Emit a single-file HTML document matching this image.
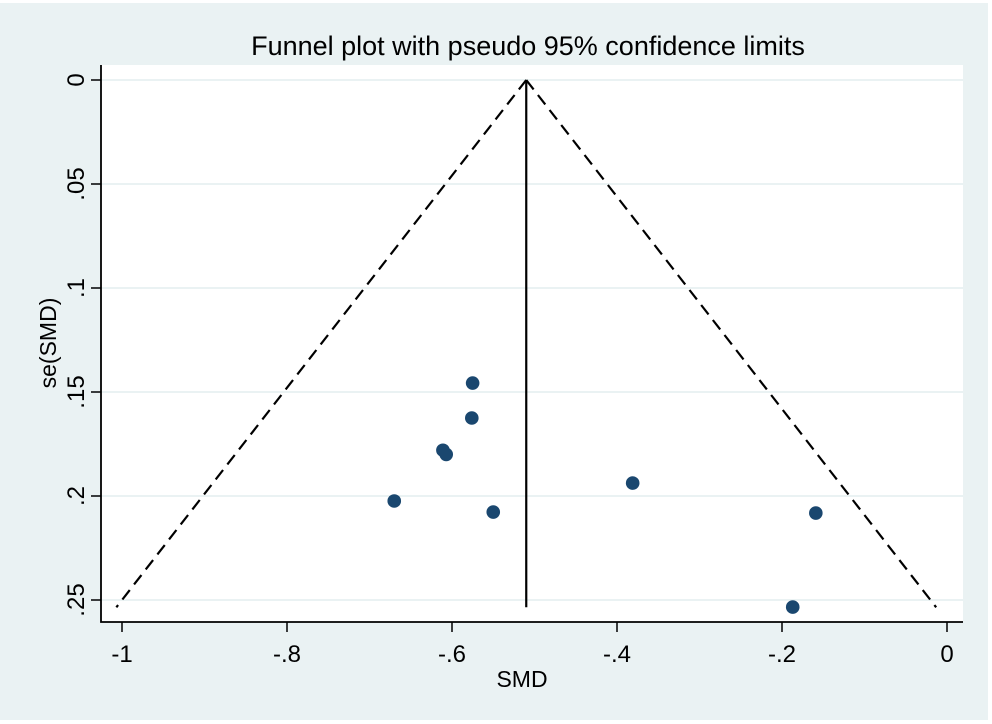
<!DOCTYPE html>
<html><head><meta charset="utf-8"><style>
html,body{margin:0;padding:0;background:#fff;}
svg{display:block;font-family:"Liberation Sans",Arial,sans-serif;}
</style></head><body>
<svg id="chart" width="992" height="724">
<rect x="0" y="3" width="988" height="717" fill="#eaf2f3"/>
<rect x="101" y="65" width="862" height="557" fill="#fff"/>
<text x="528" y="55" font-size="27" text-anchor="middle" fill="#000">Funnel plot with pseudo 95% confidence limits</text>
<text x="522" y="687" font-size="23" text-anchor="middle">SMD</text>
<text transform="translate(56,343) rotate(-90)" font-size="23" text-anchor="middle">se(SMD)</text>
<g id="grid"></g><g id="marks"></g><g id="axes"></g>
</svg>
<script>
const smd = [-0.575, -0.576, -0.611, -0.607, -0.670, -0.550, -0.381, -0.159, -0.187];
const se  = [0.1457, 0.1625, 0.178, 0.180, 0.2024, 0.2077, 0.1938, 0.2082, 0.2534];
const pooled = -0.510;
const seMax = 0.2535;
const xTicks = [-1, -0.8, -0.6, -0.4, -0.2, 0];
const xTickLabels = ["-1", "-.8", "-.6", "-.4", "-.2", "0"];
const yTicks = [0, 0.05, 0.1, 0.15, 0.2, 0.25];
const yTickLabels = ["0", ".05", ".1", ".15", ".2", ".25"];

const NS = "http://www.w3.org/2000/svg";
const X = v => 947 + v * 825;
const Y = v => 80 + v * 2080;
function mk(tag, attrs, parent) {
  const e = document.createElementNS(NS, tag);
  for (const k in attrs) e.setAttribute(k, attrs[k]);
  parent.appendChild(e);
  return e;
}
const grid = document.getElementById('grid'), marks = document.getElementById('marks'), axes = document.getElementById('axes');
yTicks.forEach((t, i) => {
  const g = mk('line', {x1: 101, x2: 963, y1: Y(t), y2: Y(t), stroke: '#eaf2f3', 'stroke-width': 2}, grid);
  
  
  const tk = mk('line', {x1: 91, x2: 101, y1: Y(t), y2: Y(t), stroke: '#000', 'stroke-width': 1.5}, axes);
  
  
  const lb = mk('text', {transform: `translate(84,${Y(t)}) rotate(-90)`, 'font-size': 24, 'text-anchor': 'middle'}, axes);
  lb.textContent = yTickLabels[i];
  
  
});
xTicks.forEach((t, i) => {
  const tk = mk('line', {x1: X(t), x2: X(t), y1: 622, y2: 632, stroke: '#000', 'stroke-width': 1.5}, axes);
  
  
  const lb = mk('text', {x: X(t), y: 662, 'font-size': 24, 'text-anchor': 'middle'}, axes);
  lb.textContent = xTickLabels[i];
  
  
});
const ax = mk('path', {d: 'M101,65 V622 H963', fill: 'none', stroke: '#000', 'stroke-width': 1.8}, axes);



const lo = mk('line', {x1: X(pooled), y1: Y(0), x2: X(pooled - 1.96 * seMax), y2: Y(seMax), stroke: '#000', 'stroke-width': 2.2, 'stroke-dasharray': '12,7'}, marks);


const hi = mk('line', {x1: X(pooled), y1: Y(0), x2: X(pooled + 1.96 * seMax), y2: Y(seMax), stroke: '#000', 'stroke-width': 2.2, 'stroke-dasharray': '12,7'}, marks);


const pl = mk('line', {x1: X(pooled), y1: Y(0), x2: X(pooled), y2: Y(seMax), stroke: '#000', 'stroke-width': 2.2}, marks);


smd.forEach((v, i) => {
  const c = mk('circle', {cx: X(v), cy: Y(se[i]), r: 6.8, fill: '#1a476f'}, marks);
  
  
});
</script>
</body></html>
